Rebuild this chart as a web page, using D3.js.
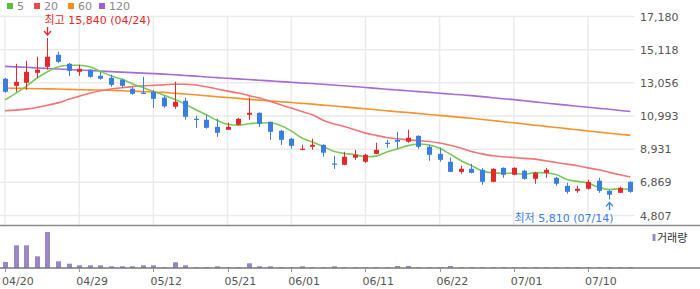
<!DOCTYPE html>
<html>
<head>
<meta charset="utf-8">
<script src="https://cdn.jsdelivr.net/npm/d3@7"></script>
<style>
  body { margin: 0; background: #fff; }
  svg { display: block; }
  text { font-family: "DejaVu Sans", "Noto Sans CJK KR", sans-serif; }
</style>
</head>
<body>
<div id="chart"></div>
<script>
// trading days shown on the chart
const dates = ["04/20","04/21","04/22","04/23","04/24","04/27","04/28","04/29","04/30","05/04",
  "05/06","05/07","05/08","05/11","05/12","05/13","05/14","05/15","05/18","05/19",
  "05/20","05/21","05/22","05/26","05/27","05/28","05/29","06/01","06/02","06/04",
  "06/05","06/08","06/09","06/10","06/11","06/12","06/15","06/16","06/17","06/18",
  "06/19","06/22","06/23","06/24","06/25","06/26","06/29","06/30","07/01","07/02",
  "07/03","07/06","07/07","07/08","07/09","07/10","07/13","07/14","07/15","07/16"];

const opens = [13310,12870,13060,13680,14050,14800,14240,13740,13870,13490,
  13370,13250,12690,12440,12500,12140,11570,11940,10820,10760,
  10320,10140,10450,11070,11190,10630,10070,9580,8890,9080,
  9200,8040,7960,8400,8150,8640,9330,9510,9390,9760,
  9080,8640,8150,7520,7710,7650,6900,7770,7340,7590,
  7090,7460,7150,6650,6340,6470,6970,6340,6220,6900];
const highs = [13370,14240,14430,14680,15840,14990,14300,14180,13900,13740,
  13560,13310,12810,13430,12620,12250,13120,12130,11010,11070,
  10820,10570,10880,12130,11220,10660,10140,9640,9200,9580,
  9230,8520,8770,8890,8640,9330,9510,10010,10140,9790,
  9200,9020,8400,7900,8020,7770,7740,7800,7800,7650,
  7520,7770,7210,6840,6650,7030,7150,6410,6590,6930];
const lows = [12440,12500,12620,13370,13870,14300,13490,13490,13370,13250,
  12810,12750,12310,12370,11500,11500,11440,10760,10260,10200,
  9700,10130,10390,10760,10320,9510,9200,8960,8860,8890,
  8460,7710,7930,8270,8080,8610,9020,8960,9330,8960,
  8210,8150,7500,7400,7430,6720,6870,7150,7310,7030,
  6780,7150,6650,6160,6220,6410,6220,5810,6190,6220];
const closes = [12500,13120,13740,13870,14680,14360,13800,13930,13430,13310,
  12930,12870,12370,12390,12060,11590,11880,10940,10760,10260,
  9950,10320,10820,11190,10510,10010,9510,9140,8960,9200,
  8710,7980,8460,8580,8580,8890,9270,9390,9640,9080,
  8580,8270,7520,7710,7460,6900,7710,7340,7770,7090,
  7460,7650,6780,6280,6470,6900,6340,6100,6530,6280];
const volumes = [6000,22700,22700,11700,36000,6700,4300,2700,2700,2700,
  1700,1700,1700,2700,2700,700,5700,2700,700,700,
  1700,700,700,4700,1700,1700,700,700,1700,700,
  700,1700,700,700,700,700,700,2000,2000,700,
  700,700,2000,700,700,700,700,700,700,700,
  700,700,700,700,700,700,700,700,700,700];

// moving averages as drawn
const ma5 = [12000,12400,12840,13340,13740,14050,14150,14150,14050,13770,
  13490,13290,13000,12770,12520,12280,12030,11720,11380,11070,
  10730,10480,10420,10510,10560,10570,10410,10070,9630,9370,
  9100,8800,8660,8590,8460,8500,8760,8940,9150,9250,
  9190,8990,8620,8230,7910,7580,7460,7430,7440,7360,
  7480,7460,7350,7050,6930,6820,6560,6420,6470,6430];
const ma20 = [11320,11360,11420,11520,11660,11810,12030,12220,12410,12560,
  12670,12750,12820,12870,12900,12930,12970,12970,12920,12810,
  12670,12540,12420,12260,12110,11910,11690,11490,11270,11070,
  10730,10510,10340,10140,9930,9790,9660,9580,9510,9450,
  9410,9310,9170,9000,8790,8640,8520,8460,8410,8360,
  8310,8210,8100,8000,7900,7770,7650,7490,7340,7200];
const ma60 = [12730,12720,12700,12690,12680,12670,12650,12630,12620,12600,
  12590,12560,12540,12510,12490,12460,12410,12360,12310,12250,
  12190,12140,12090,12030,11980,11930,11880,11830,11780,11730,
  11670,11620,11560,11500,11440,11380,11320,11260,11210,11150,
  11090,11030,10970,10910,10850,10780,10710,10640,10570,10500,
  10420,10350,10280,10210,10140,10060,9990,9920,9860,9790];
const ma120 = [14080,14050,14020,13980,13950,13920,13880,13850,13820,13790,
  13750,13720,13690,13660,13630,13600,13560,13510,13470,13420,
  13380,13340,13300,13260,13220,13180,13130,13090,13050,13010,
  12970,12920,12870,12820,12770,12710,12660,12610,12560,12510,
  12460,12410,12360,12310,12260,12200,12130,12070,12010,11940,
  11870,11800,11730,11670,11600,11540,11470,11410,11340,11270];

const maNames = ["5", "20", "60", "120"];
const priceTicks = [4807, 6869, 8931, 10993, 13056, 15118, 17180];
const priceTickLabels = ["4,807", "6,869", "8,931", "10,993", "13,056", "15,118", "17,180"];
const dateTicks = ["04/20","04/29","05/12","05/21","06/01","06/11","06/22","07/01","07/10"];
const highLabel = "최고 15,840 (04/24)";
const lowLabel = "최저 5,810 (07/14)";
const volumeLabel = "거래량";

const W = 700, H = 289;
const plotRight = 635, priceTop = 16.5, priceBottom = 215.5;
const sepY = 225.5, volBottom = 268;

const upColor = "#e3292c", downColor = "#3a7fe0";
const maColors = ["#78c95a", "#f27474", "#f6922a", "#a46cd4"];
const legendColors = ["#5cbb45", "#ea4a4a", "#f78b20", "#9e62d0"];
const gridColor = "#ebebeb";

const svg = d3.select("#chart").append("svg")
  .attr("width", W).attr("height", H);

const x = d3.scalePoint().domain(dates).range([5, 630.4]);
const y = d3.scaleLinear().domain([4807, 17180]).range([priceBottom, priceTop]);
const yv = d3.scaleLinear().domain([0, d3.max(volumes)]).range([volBottom, volBottom - 36]);

// grid
const grid = svg.append("g");
grid.selectAll("line.h").data(priceTicks).join("line")
  .attr("x1", 0).attr("x2", plotRight)
  .attr("y1", d => y(d)).attr("y2", d => y(d))
  .attr("stroke", gridColor).attr("stroke-width", 1.5);
grid.selectAll("line.v").data(dateTicks).join("line")
  .attr("x1", d => x(d)).attr("x2", d => x(d))
  .attr("y1", priceTop).attr("y2", sepY)
  .attr("stroke", gridColor).attr("stroke-width", 1.5);

// right price axis
const yAxis = svg.append("g")
  .attr("transform", `translate(${plotRight},0)`)
  .call(d3.axisRight(y).tickValues(priceTicks)
    .tickFormat((d, i) => priceTickLabels[i]).tickSize(0).tickPadding(5));
yAxis.select(".domain").remove();
yAxis.selectAll("text").attr("fill", "#555").attr("font-size", 11)
  .style("font-family", "DejaVu Sans");

// moving average lines
const series = [ma5, ma20, ma60, ma120];
const line = d3.line().x((d, i) => x(dates[i])).y(d => y(d)).curve(d3.curveMonotoneX);
series.slice().reverse().forEach((s, k) => {
  const idx = series.length - 1 - k;
  svg.append("path").datum(s)
    .attr("fill", "none").attr("stroke", maColors[idx])
    .attr("stroke-width", 1.6).attr("d", line);
});

// candles
const candles = svg.append("g").selectAll("g").data(dates).join("g");
const col = i => closes[i] >= opens[i] ? upColor : downColor;
candles.append("line")
  .attr("x1", d => Math.round(x(d)) + 0.5).attr("x2", d => Math.round(x(d)) + 0.5)
  .attr("y1", (d, i) => y(highs[i])).attr("y2", (d, i) => y(lows[i]))
  .attr("stroke", (d, i) => col(i)).attr("stroke-width", 1);
candles.append("rect")
  .attr("x", d => Math.round(x(d)) - 2)
  .attr("width", 5)
  .attr("y", (d, i) => y(Math.max(opens[i], closes[i])))
  .attr("height", (d, i) => Math.max(1.2, Math.abs(y(opens[i]) - y(closes[i]))))
  .attr("fill", (d, i) => col(i));

// high / low markers
const hi = highs.indexOf(d3.max(highs));
const lo = lows.indexOf(d3.min(lows));
const hx = Math.round(x(dates[hi])) + 0.5, hy = y(highs[hi]);
const lx = Math.round(x(dates[lo])) + 0.5, ly = y(lows[lo]);
svg.append("text").attr("x", hx - 3).attr("y", hy - 14)
  .attr("fill", upColor).attr("font-size", 11).text(highLabel);
svg.append("path")
  .attr("d", `M${hx},${hy - 11}V${hy - 3}M${hx - 3.5},${hy - 7}L${hx},${hy - 3}L${hx + 3.5},${hy - 7}`)
  .attr("fill", "none").attr("stroke", upColor).attr("stroke-width", 1.3);
svg.append("text").attr("x", lx + 4).attr("y", ly + 23).attr("text-anchor", "end")
  .attr("fill", downColor).attr("font-size", 11).text(lowLabel);
svg.append("path")
  .attr("d", `M${lx},${ly + 11}V${ly + 3}M${lx - 3.5},${ly + 7}L${lx},${ly + 3}L${lx + 3.5},${ly + 7}`)
  .attr("fill", "none").attr("stroke", downColor).attr("stroke-width", 1.3);

// legend
const legend = svg.append("g").selectAll("g").data(maNames).join("g")
  .attr("transform", (d, i) => `translate(${[7, 34, 68, 99][i]},0)`);
legend.append("rect").attr("x", 0).attr("y", 3).attr("width", 6).attr("height", 6)
  .attr("fill", (d, i) => legendColors[i]);
legend.append("text").attr("x", 10).attr("y", 10)
  .attr("fill", "#888").attr("font-size", 11).text(d => d);

// volume panel
svg.append("line").attr("x1", 0).attr("x2", W).attr("y1", sepY).attr("y2", sepY)
  .attr("stroke", "#8a8a8a").attr("stroke-width", 1.3);
svg.append("g").selectAll("rect").data(volumes).join("rect")
  .attr("x", (d, i) => Math.round(x(dates[i])) - 2)
  .attr("width", 5)
  .attr("y", d => yv(d))
  .attr("height", d => volBottom - yv(d))
  .attr("fill", "#9a85c6");
svg.append("rect").attr("x", 652.5).attr("y", 234).attr("width", 3).attr("height", 7)
  .attr("fill", "#9a85c6");
svg.append("text").attr("x", 657).attr("y", 242)
  .attr("fill", "#333").attr("font-size", 11).text(volumeLabel);

// date axis
svg.append("line").attr("x1", 0).attr("x2", W).attr("y1", volBottom).attr("y2", volBottom)
  .attr("stroke", "#777").attr("stroke-width", 1.3);
const xAxis = svg.append("g").attr("transform", `translate(0,${volBottom})`);
xAxis.selectAll("line").data(dateTicks).join("line")
  .attr("x1", d => Math.round(x(d)) + 0.5).attr("x2", d => Math.round(x(d)) + 0.5)
  .attr("y1", 0).attr("y2", 4).attr("stroke", "#999");
xAxis.selectAll("text").data(dateTicks).join("text")
  .attr("x", d => x(d) - 3).attr("y", 17)
  .attr("fill", "#555").attr("font-size", 11).text(d => d);
</script>
</body>
</html>
